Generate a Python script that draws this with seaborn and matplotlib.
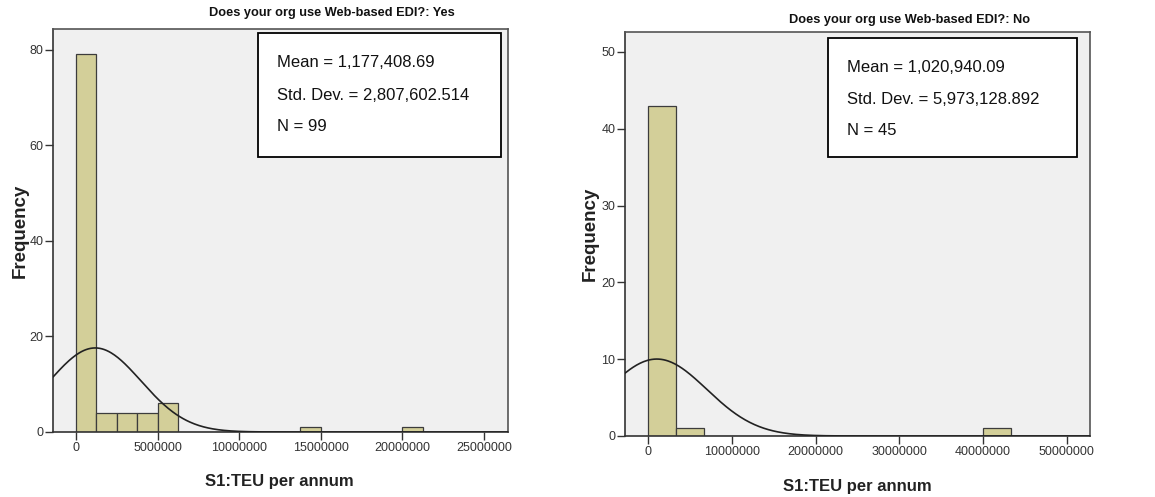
import numpy as np
import pandas as pd
import seaborn as sns
import matplotlib
matplotlib.use("Agg")
import matplotlib.pyplot as plt
from matplotlib.patches import Rectangle
from matplotlib.ticker import FuncFormatter, FixedLocator

# ---------------- data ----------------
# Panel "Yes"
yes_bin_width = 1250000
yes_bin_left = [0, 1250000, 2500000, 3750000, 5000000, 13750000, 20000000]
yes_counts = [79, 4, 4, 4, 6, 1, 1]
yes_mean = 1177408.69
yes_std = 2807602.514
yes_n = 99
yes_xticks = [0, 5000000, 10000000, 15000000, 20000000, 25000000]
yes_yticks = [0, 20, 40, 60, 80]

# Panel "No"
no_bin_width = 40000000 / 12
no_bin_left = [0, 40000000 / 12, 40000000]
no_counts = [43, 1, 1]
no_mean = 1020940.09
no_std = 5973128.892
no_n = 45
no_xticks = [0, 10000000, 20000000, 30000000, 40000000, 50000000]
no_yticks = [0, 10, 20, 30, 40, 50]

titles = ["Does your org use Web-based EDI?: Yes", "Does your org use Web-based EDI?: No"]
xlabel = "S1:TEU per annum"
ylabel = "Frequency"

# ---------------- style ----------------
sns.set_theme(style="ticks")
plt.rcParams["font.family"] = ["Liberation Sans", "DejaVu Sans"]

BAR = "#D3CF99"
EDGE = "#3c3c3c"
BG = "#F0F0F0"
DARK = "#333333"

fig = plt.figure(figsize=(11.55, 4.97), dpi=100)
fig.patch.set_facecolor("white")

panels = [
    dict(rect=[53/1155, 65/497, 455/1155, 403/497],
         left=yes_bin_left, counts=yes_counts, w=yes_bin_width,
         mean=yes_mean, std=yes_std, n=yes_n,
         xticks=yes_xticks, yticks=yes_yticks,
         xlim=(-1.41e6, 26.47e6), ylim=(0, 84.3),
         title=titles[0], title_y=1.040,
         box=(0.451, 0.682, 0.534, 0.308), tx=0.492, ty=[0.918, 0.836, 0.757],
         ylab=(-0.073, 0.5), xlab=(0.497, -0.124)),
    dict(rect=[625/1155, 61/497, 465/1155, 404/497],
         left=no_bin_left, counts=no_counts, w=no_bin_width,
         mean=no_mean, std=no_std, n=no_n,
         xticks=no_xticks, yticks=no_yticks,
         xlim=(-2.78e6, 52.8e6), ylim=(0, 52.6),
         title=titles[1], title_y=1.029,
         box=(0.437, 0.691, 0.535, 0.294), tx=0.477, ty=[0.913, 0.834, 0.757],
         ylab=(-0.075, 0.5), xlab=(0.5, -0.126)),
]

for p in panels:
    ax = fig.add_axes(p["rect"])
    ax.set_facecolor(BG)
    w = p["w"]
    centers = [l + w / 2 for l in p["left"]]
    top_edge = max(p["left"]) + w
    df = pd.DataFrame({"x": centers, "c": p["counts"]})
    sns.histplot(data=df, x="x", weights="c", binwidth=w, binrange=(0, top_edge), ax=ax,
                 color=BAR, alpha=1.0, edgecolor=EDGE, linewidth=0.9, zorder=2)
    # fitted normal curve from the reported statistics
    xs = np.linspace(p["xlim"][0], p["xlim"][1], 400)
    ys = p["n"] * w / (p["std"] * np.sqrt(2 * np.pi)) * np.exp(-0.5 * ((xs - p["mean"]) / p["std"]) ** 2)
    sns.lineplot(x=xs, y=ys, ax=ax, color="#222222", linewidth=1.2, zorder=3)

    ax.set_xlim(*p["xlim"])
    ax.set_ylim(*p["ylim"])
    ax.xaxis.set_major_locator(FixedLocator(p["xticks"]))
    ax.yaxis.set_major_locator(FixedLocator(p["yticks"]))
    ax.xaxis.set_major_formatter(FuncFormatter(lambda v, pos: f"{v:.0f}"))
    ax.yaxis.set_major_formatter(FuncFormatter(lambda v, pos: f"{v:.0f}"))
    ax.tick_params(axis="both", labelsize=9, colors=DARK, length=6, width=1.0, direction="out", pad=1)
    for s in ax.spines.values():
        s.set_visible(True)
        s.set_color("#555555")
        s.set_linewidth(1.2)
    ax.spines["left"].set_color(DARK)
    ax.spines["bottom"].set_color(DARK)

    ax.set_xlabel(xlabel, fontsize=12, fontweight="bold", color="#222222")
    ax.set_ylabel(ylabel, fontsize=13.5, fontweight="bold", color="#222222")
    ax.xaxis.set_label_coords(*p["xlab"])
    ax.yaxis.set_label_coords(*p["ylab"])
    ax.xaxis.label.set_va("center")
    ax.yaxis.label.set_va("center")

    ax.text(0.612, p["title_y"], p["title"], transform=ax.transAxes,
            ha="center", va="center", fontsize=9.2, fontweight="bold",
            family=["Liberation Sans Narrow", "Liberation Sans", "DejaVu Sans"], color="#111111")

    bx, by, bw, bh = p["box"]
    ax.add_patch(Rectangle((bx, by), bw, bh, transform=ax.transAxes,
                           facecolor="white", edgecolor="black", linewidth=1.3, zorder=5))
    lines = [f"Mean = {p['mean']:,.2f}", f"Std. Dev. = {p['std']:,.3f}", f"N = {p['n']}"]
    for t, yy in zip(lines, p["ty"]):
        ax.text(p["tx"], yy, t, transform=ax.transAxes, ha="left", va="center",
                fontsize=12, color="#111111", zorder=6)

fig.savefig("out.png", dpi=100, facecolor="white")
